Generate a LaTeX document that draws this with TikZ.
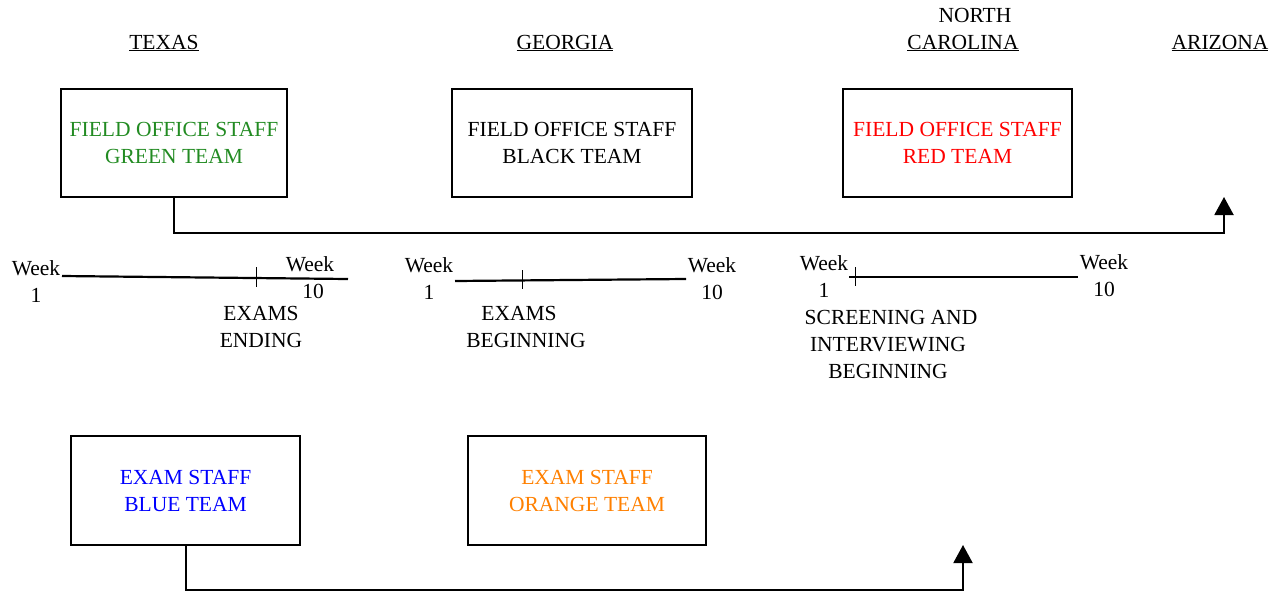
\documentclass[tikz,border=0pt]{standalone}
\usepackage{fontspec}
\setmainfont{Liberation Serif}
\usetikzlibrary{arrows.meta}
\definecolor{tgreen}{RGB}{34,139,34}
\definecolor{torange}{RGB}{255,128,0}
\begin{document}
\begin{tikzpicture}[x=1pt,y=-1pt,
  font=\fontsize{21.5}{27}\selectfont,
  box/.style={draw,line width=2pt,align=center,inner sep=0pt},
  conn/.style={line width=2pt,-{Triangle[length=18pt,width=19pt]}},
  tline/.style={line width=2.2pt},
  tick/.style={line width=0.7pt},
  lbl/.style={anchor=base,inner sep=0pt}]
\useasboundingbox (0,0) rectangle (1283,592);
% headings
\node[lbl] (tx) at (164,49) {\underline{TEXAS}};
\node[lbl] (ga) at (565,49) {\underline{GEORGIA}};
\node[lbl] (nc1) at (975,22) {NORTH};
\node[lbl] (nc2) at (963,49) {\underline{CAROLINA}};
\node[lbl] (az) at (1220,49) {\underline{ARIZONA}};
% boxes
\node[box,minimum width=226pt,minimum height=108pt,text=tgreen] (green) at (174,143) {FIELD OFFICE STAFF\\GREEN TEAM};
\node[box,minimum width=240pt,minimum height=108pt] (black) at (572,143) {FIELD OFFICE STAFF\\BLACK TEAM};
\node[box,minimum width=229pt,minimum height=108pt,text=red] (red) at (957.5,143) {FIELD OFFICE STAFF\\RED TEAM};
\node[box,minimum width=229pt,minimum height=109pt,text=blue] (blue) at (185.5,490.5) {EXAM STAFF\\BLUE TEAM};
\node[box,minimum width=238pt,minimum height=109pt,text=torange] (orange) at (587,490.5) {EXAM STAFF\\ORANGE TEAM};
% arrows
\coordinate (tipA) at (1224,197);
\coordinate (tipB) at (963,545);
\draw[conn] (green.south) -- (green.south |- 0,233) -| (tipA);
\draw[conn] (blue.south) -- (blue.south |- 0,590) -| (tipB);
% timeline 1
\node[lbl] (w1a) at (36,275) {Week};
\node[lbl] (n1a) at (36,302) {1};
\node[lbl] (w10a) at (310,271) {Week};
\node[lbl] (n10a) at (313,298) {10};
\coordinate (t1s) at (62,276);
\coordinate (t1e) at (348,279);
\draw[tline] (t1s) -- (t1e);
\coordinate (k1a) at (256,267);
\coordinate (k1b) at (256,287);
\draw[tick] (k1a) -- (k1b);
\node[lbl] (ex1) at (261,320) {EXAMS};
\node[lbl] (en1) at (261,347) {ENDING};
% timeline 2
\node[lbl] (w1b) at (429,272) {Week};
\node[lbl] (n1b) at (429,299) {1};
\node[lbl] (w10b) at (712,272) {Week};
\node[lbl] (n10b) at (712,299) {10};
\coordinate (t2s) at (455,281);
\coordinate (t2e) at (686,279);
\draw[tline] (t2s) -- (t2e);
\coordinate (k2a) at (522,270);
\coordinate (k2b) at (522,289);
\draw[tick] (k2a) -- (k2b);
\node[lbl] (ex2) at (519,320) {EXAMS};
\node[lbl] (bg2) at (526,347) {BEGINNING};
% timeline 3
\node[lbl] (w1c) at (824,270) {Week};
\node[lbl] (n1c) at (824,297) {1};
\node[lbl] (w10c) at (1104,269) {Week};
\node[lbl] (n10c) at (1104,296) {10};
\coordinate (t3s) at (849,277);
\coordinate (t3e) at (1078,277);
\draw[tline] (t3s) -- (t3e);
\coordinate (k3a) at (855,267);
\coordinate (k3b) at (855,286);
\draw[tick] (k3a) -- (k3b);
\node[lbl] (sc3) at (891,324) {SCREENING AND};
\node[lbl] (iv3) at (888,351) {INTERVIEWING};
\node[lbl] (bg3) at (888,378) {BEGINNING};
\end{tikzpicture}
\end{document}
